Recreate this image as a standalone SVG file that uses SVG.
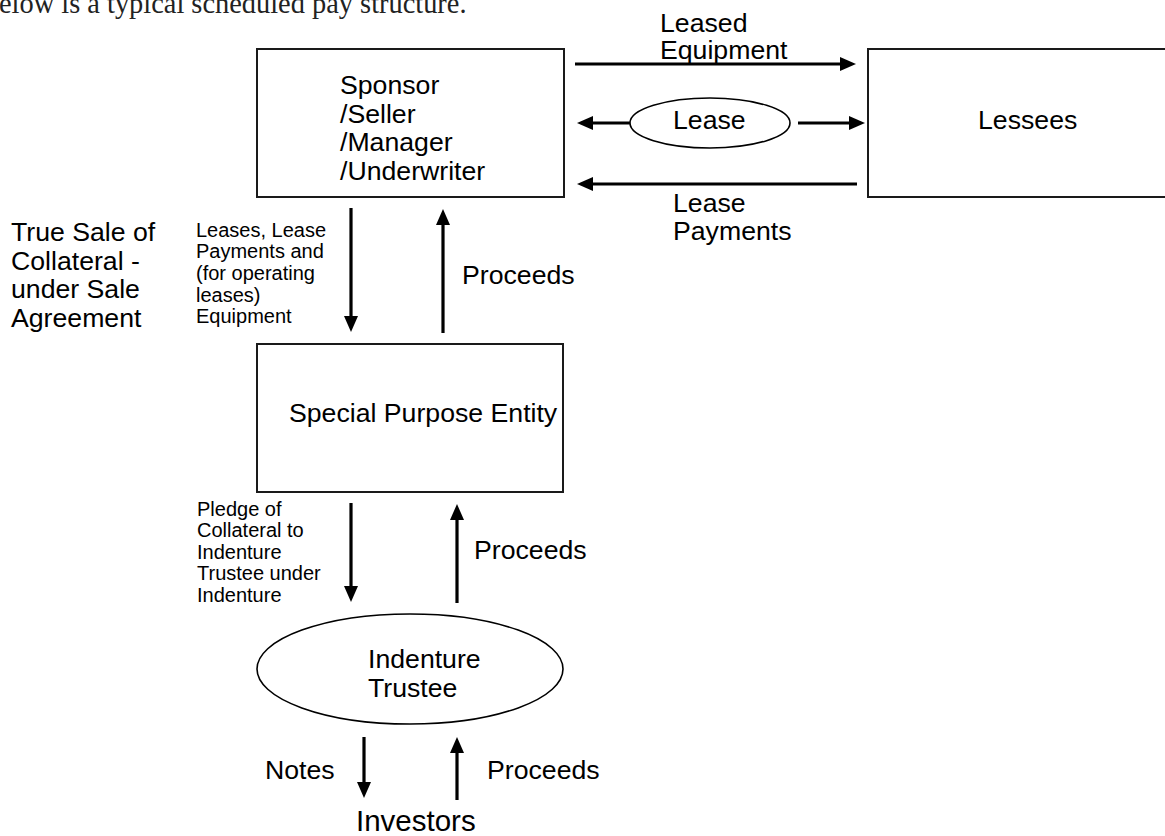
<svg xmlns="http://www.w3.org/2000/svg" width="1165" height="836" viewBox="0 0 1165 836">
<style>
.box{fill:#fff;stroke:#1a1a1a;stroke-width:2}
.t{font-family:"Liberation Sans",Arial,sans-serif;font-size:26.67px;fill:#000}
.s{font-family:"Liberation Sans",Arial,sans-serif;font-size:20px;fill:#000}
.c{fill:none;stroke:#000;stroke-width:3.2;marker-end:url(#ah)}
.pl{fill:none;stroke:#000;stroke-width:3.2}
</style>
<defs>
<marker id="ah" markerUnits="userSpaceOnUse" markerWidth="17" markerHeight="14" refX="1" refY="7" orient="auto">
<path d="M0,0 L16,7 L0,14 Z" fill="#000"/>
</marker>
</defs>
<text x="-1" y="13" style="font-family:'Liberation Serif','Times New Roman',serif;font-size:28.4px;fill:#222">elow is a typical scheduled pay structure.</text>

<g id="sponsor">
<rect class="box" x="257" y="49" width="307" height="148"/>
<text class="t" x="340" y="94">Sponsor</text>
<text class="t" x="340" y="123">/Seller</text>
<text class="t" x="340" y="151">/Manager</text>
<text class="t" x="340" y="180">/Underwriter</text>
</g>

<g id="lessees">
<rect class="box" x="868" y="49" width="305" height="148"/>
<text class="t" x="978" y="129">Lessees</text>
</g>

<g id="lease">
<ellipse cx="710" cy="123" rx="80" ry="25" fill="#fff" stroke="#000" stroke-width="1.6"/>
<text class="t" x="673" y="129">Lease</text>
</g>

<g id="spe">
<rect class="box" x="257" y="344" width="306" height="148"/>
<text class="t" x="289" y="422">Special Purpose Entity</text>
</g>

<g id="trustee">
<ellipse cx="410" cy="669" rx="153" ry="55" fill="#fff" stroke="#000" stroke-width="1.6"/>
<text class="t" x="368" y="668">Indenture</text>
<text class="t" x="368" y="697">Trustee</text>
</g>

<g id="investors">
<text class="t" x="356" y="831" style="font-size:29.5px">Investors</text>
</g>

<g id="connectors">
<line class="c" x1="575" y1="64" x2="841" y2="64"/>
<line class="c" x1="630" y1="123" x2="592" y2="123"/>
<line class="c" x1="798" y1="123" x2="850" y2="123"/>
<line class="c" x1="857" y1="184" x2="592" y2="184"/>
<line class="c" x1="351" y1="208" x2="351" y2="317"/>
<line class="c" x1="443" y1="333" x2="443" y2="224"/>
<line class="c" x1="351" y1="503" x2="351" y2="587"/>
<line class="c" x1="457" y1="603" x2="457" y2="519"/>
<line class="c" x1="364" y1="737" x2="364" y2="783"/>
<line class="c" x1="457" y1="800" x2="457" y2="752"/>
</g>

<g id="labels">
<text class="t" x="660" y="32">Leased</text>
<text class="t" x="660" y="59">Equipment</text>
<text class="t" x="673" y="212">Lease</text>
<text class="t" x="673" y="240">Payments</text>
<text class="t" x="11" y="241">True Sale of</text>
<text class="t" x="11" y="270">Collateral -</text>
<text class="t" x="11" y="298">under Sale</text>
<text class="t" x="11" y="327">Agreement</text>
<text class="s" x="196" y="237">Leases, Lease</text>
<text class="s" x="196" y="258">Payments and</text>
<text class="s" x="196" y="280">(for operating</text>
<text class="s" x="196" y="302">leases)</text>
<text class="s" x="196" y="323">Equipment</text>
<text class="t" x="462" y="284">Proceeds</text>
<text class="s" x="197" y="516">Pledge of</text>
<text class="s" x="197" y="537">Collateral to</text>
<text class="s" x="197" y="559">Indenture</text>
<text class="s" x="197" y="580">Trustee under</text>
<text class="s" x="197" y="602">Indenture</text>
<text class="t" x="474" y="559">Proceeds</text>
<text class="t" x="265" y="779">Notes</text>
<text class="t" x="487" y="779">Proceeds</text>
</g>
</svg>
